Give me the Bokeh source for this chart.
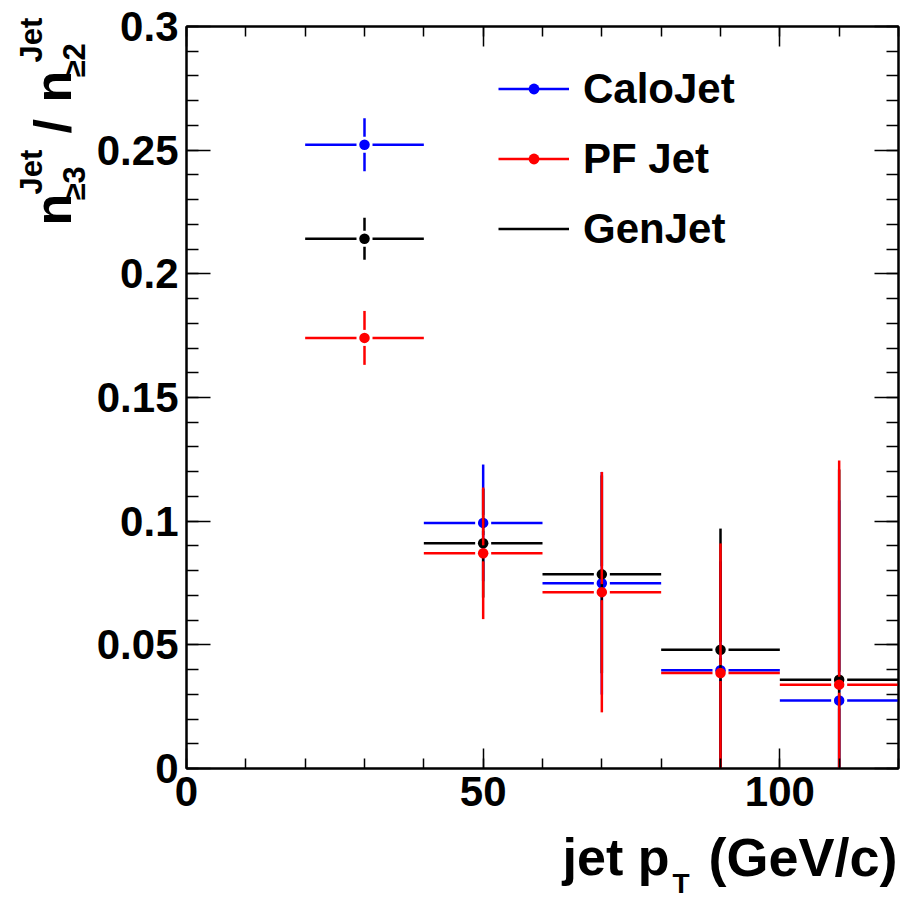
from bokeh.plotting import figure
from bokeh.layouts import row, column
from bokeh.models import (LinearAxis, FixedTicker, CustomJSTickFormatter,
                          Label, Legend, LegendItem, Range1d)
from bokeh.embed import file_html
from bokeh.resources import INLINE

# ---------------- data ----------------
jet_pt_center = [30, 50, 70, 90, 110]
jet_pt_halfwidth = [10, 10, 10, 10, 10]

calo_ratio = [0.2522, 0.0993, 0.0749, 0.0397, 0.0275]
calo_err = [0.0107, 0.0236, 0.0450, 0.0440, 0.0810]

gen_ratio = [0.2142, 0.0911, 0.0785, 0.0480, 0.0359]
gen_err = [0.0085, 0.0220, 0.0400, 0.0490, 0.0850]

pf_ratio = [0.1741, 0.0870, 0.0713, 0.0386, 0.0339]
pf_err = [0.0109, 0.0266, 0.0486, 0.0524, 0.0906]

series_names = ["CaloJet", "PF Jet", "GenJet"]

x_major_ticks = [0, 50, 100]
y_major_ticks = [0, 0.05, 0.1, 0.15, 0.2, 0.25, 0.3]

# ---------------- layout (page pixels) ----------------
FONT = "Liberation Sans"
X_MAX, Y_MAX = 120, 0.3
W_TOTAL, H_TOTAL = 920, 899
YLAB_W = 92                      # width of the y-title strip
FL, FT = 186, 26                 # frame left/top on page
FW, FH = 712, 742                # frame size
MAIN_H = 824                     # main figure height
PX_X = FW / X_MAX
PX_Y = FH / Y_MAX
MAIN_W = W_TOTAL - YLAB_W
BL = FL - YLAB_W                 # left border of main figure
BR = MAIN_W - BL - FW            # right border of main figure

p = figure(frame_width=FW, frame_height=FH, title=None,
           x_range=Range1d(0, X_MAX), y_range=Range1d(0, Y_MAX),
           output_backend="svg", toolbar_location=None,
           min_border_left=BL, min_border_right=BR,
           min_border_top=FT, min_border_bottom=MAIN_H - FT - FH)
p.background_fill_color = "white"
p.border_fill_color = "white"
p.outline_line_color = "black"
p.outline_line_width = 2
p.grid.visible = False

x_minor = [v for v in range(0, X_MAX + 1, 10)]
y_minor = [round(i * 0.01, 2) for i in range(0, 31)]

def style_axis(ax, ticks, minor, major_in, minor_in, labels, fmt=None):
    ax.ticker = FixedTicker(ticks=ticks, minor_ticks=minor)
    ax.axis_line_width = 2
    ax.major_tick_out = 0
    ax.minor_tick_out = 0
    ax.major_tick_in = major_in
    ax.minor_tick_in = minor_in
    ax.major_tick_line_width = 1.5
    ax.minor_tick_line_width = 1.5
    ax.axis_label = None
    if labels:
        ax.major_label_text_font = FONT
        ax.major_label_text_font_style = "bold"
        ax.major_label_text_font_size = "42px"
        ax.major_label_text_color = "black"
        if fmt is not None:
            ax.formatter = fmt
    else:
        ax.formatter = CustomJSTickFormatter(code="return ''")
        ax.major_label_text_font_size = "1px"
        ax.major_label_standoff = 0

yfmt = CustomJSTickFormatter(code="return (Math.round(tick*100)/100).toString()")
style_axis(p.xaxis[0], x_major_ticks, x_minor, 20, 10, True)
p.xaxis[0].major_label_standoff = 8
style_axis(p.yaxis[0], y_major_ticks, y_minor, 24, 12, True, yfmt)
p.yaxis[0].major_label_standoff = 8

top_ax = LinearAxis()
style_axis(top_ax, x_major_ticks, x_minor, 20, 10, False)
p.add_layout(top_ax, "above")
right_ax = LinearAxis()
style_axis(right_ax, y_major_ticks, y_minor, 24, 12, False)
p.add_layout(right_ax, "right")

GAP = 8  # px gap around the marker in the error bars
LW = 2.5

def add_series(yv, ev, color):
    gx = GAP / PX_X
    gy = GAP / PX_Y
    x0s, x1s, y0s, y1s = [], [], [], []
    for xc, hw, yc, e in zip(jet_pt_center, jet_pt_halfwidth, yv, ev):
        x0s += [xc - hw, xc + gx]
        x1s += [xc - gx, xc + hw]
        y0s += [yc, yc]
        y1s += [yc, yc]
        if e > gy:
            x0s += [xc, xc]
            x1s += [xc, xc]
            y0s += [yc - e, yc + gy]
            y1s += [yc - gy, yc + e]
    seg = p.segment(x0=x0s, y0=y0s, x1=x1s, y1=y1s, line_color=color, line_width=LW)
    sc = p.scatter(jet_pt_center, yv, marker="circle", size=10.5,
                   fill_color=color, line_color=None)
    return seg, sc

calo_seg, calo_sc = add_series(calo_ratio, calo_err, "#0000ff")
gen_seg, gen_sc = add_series(gen_ratio, gen_err, "#000000")
pf_seg, pf_sc = add_series(pf_ratio, pf_err, "#ff0000")

legend = Legend(items=[
    LegendItem(label=series_names[0], renderers=[calo_seg, calo_sc]),
    LegendItem(label=series_names[1], renderers=[pf_seg, pf_sc]),
    LegendItem(label=series_names[2], renderers=[gen_seg]),
], location=(312, 511))
legend.glyph_width = 71
legend.glyph_height = 27
legend.label_height = 57
legend.spacing = 13
legend.padding = 0
legend.margin = 0
legend.label_standoff = 14
legend.border_line_color = None
legend.background_fill_alpha = 0
legend.label_text_font = FONT
legend.label_text_font_style = "bold"
legend.label_text_font_size = "42px"
legend.label_text_color = "black"
legend.label_text_baseline = "alphabetic"
p.add_layout(legend, "center")

# ---------------- title strips (data coordinates = page pixels) ----------------
MID = 0.35   # distance from the text-box middle to the baseline, in em

def strip(fw, fh, x0, x1, y_top, y_bottom, bl=0, br=0):
    f = figure(frame_width=fw, frame_height=fh, title=None,
               x_range=Range1d(x0, x1), y_range=Range1d(y_bottom, y_top),
               x_axis_type=None, y_axis_type=None, output_backend="svg",
               toolbar_location=None, min_border=0,
               min_border_left=bl, min_border_right=br)
    f.outline_line_color = None
    f.grid.visible = False
    f.background_fill_color = "white"
    f.border_fill_color = "white"
    return f

def add_text(fig, text, px, py, size, align="left", angle=0):
    # (px, py) = start/end of the text baseline in page pixels
    if angle == 90:
        ax, ay = px - MID * size, py
    else:
        ax, ay = px, py - MID * size
    fig.add_layout(Label(x=ax, y=ay, text=text, angle=angle, angle_units="deg",
                         text_font=FONT, text_font_style="bold", text_font_size=f"{size}px",
                         text_align=align, text_baseline="middle", text_color="black"))

# y title strip: page x 0..YLAB_W, page y 0..H_TOTAL (reversed y range)
yfig = strip(YLAB_W, H_TOTAL, 0, YLAB_W, 0, H_TOTAL)
add_text(yfig, "n", 71, 225, 52, angle=90)
add_text(yfig, "Jet", 42, 194, 31, angle=90)
add_text(yfig, "\u22653", 85, 200, 31, angle=90)
add_text(yfig, "/", 71, 133, 52, angle=90)
add_text(yfig, "n", 71, 102, 52, angle=90)
add_text(yfig, "Jet", 42, 62, 31, angle=90)
add_text(yfig, "\u22652", 85, 77, 31, angle=90)

# x title strip: frame aligned with the main frame, page y MAIN_H..H_TOTAL
xfig = strip(FW, H_TOTAL - MAIN_H, FL, FL + FW, MAIN_H, H_TOTAL, bl=BL, br=BR)
add_text(xfig, "jet p", 669, 875, 52, align="right")
add_text(xfig, "T", 672, 893, 28)
add_text(xfig, "(GeV/c)", 897, 875, 54, align="right")

layout = row(yfig, column(p, xfig))
open("out.html", "w").write(file_html(layout, INLINE))
